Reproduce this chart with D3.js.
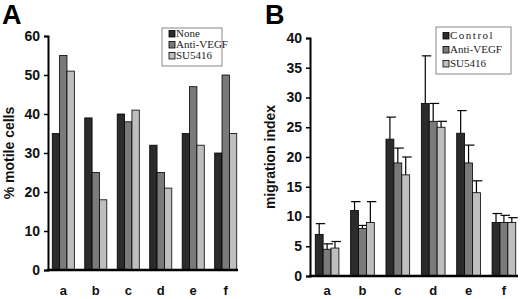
<!DOCTYPE html>
<html lang="en">
<head>
<meta charset="UTF-8">
<script src="https://d3js.org/d3.v7.min.js"></script>
<style>
  body { margin: 0; background: #fff; }
  svg text { font-family: "Liberation Sans", Arial, sans-serif; }
</style>
</head>
<body>
<div id="Area"></div>
<script>
// ---- data ----
const categories = ["a", "b", "c", "d", "e", "f"];

// panel A: % motile cells
const seriesA = ["None", "Anti-VEGF", "SU5416"];
const noneA = [35, 39, 40, 32, 35, 30];
const antiA = [55, 25, 38, 25, 47, 50];
const suA   = [51, 18, 41, 21, 32, 35];
const ticksA = [0, 10, 20, 30, 40, 50, 60];

// panel B: migration index, with upper error
const seriesB = ["Control", "Anti-VEGF", "SU5416"];
const controlB = [7, 11, 23, 29, 24, 9];
const antiB    = [4.5, 8, 19, 26, 19, 9];
const suB      = [4.7, 9, 17, 25, 14, 9];
const controlErr = [1.8, 1.5, 3.7, 8, 3.8, 1.5];
const antiErr    = [0.9, 0.5, 2.5, 3, 3, 1.2];
const suErr      = [1.1, 3.5, 3, 1, 2, 0.8];
const ticksB = [0, 5, 10, 15, 20, 25, 30, 35, 40];

const colors = ["#2b2b2b", "#7a7a7a", "#bebebe"];

const svg = d3.select("#Area").append("svg")
  .attr("width", 520).attr("height", 299);

function panel(opt) {
  const g = svg.append("g");
  const y = d3.scaleLinear().domain([0, opt.max]).range([opt.y0, opt.y1]);
  const x0 = d3.scaleBand().domain(categories)
    .range([opt.xLeft, opt.xRight]).paddingInner(opt.padIn).paddingOuter(opt.padOut);
  const x1 = d3.scaleBand().domain([0, 1, 2]).range([0, x0.bandwidth()]);

  // bars
  opt.values.forEach((vals, s) => {
    g.selectAll(null).data(vals).enter().append("rect")
      .attr("x", (d, i) => x0(categories[i]) + x1(s))
      .attr("y", d => y(d))
      .attr("width", x1.bandwidth())
      .attr("height", d => y(0) - y(d))
      .attr("fill", colors[s])
      .attr("stroke", "#000").attr("stroke-width", 0.8);
    if (opt.errs) {
      const e = opt.errs[s];
      const eg = g.selectAll(null).data(vals).enter().append("g")
        .attr("stroke", "#000").attr("stroke-width", 1.2);
      eg.append("line")
        .attr("x1", (d, i) => x0(categories[i]) + x1(s) + x1.bandwidth() / 2)
        .attr("x2", (d, i) => x0(categories[i]) + x1(s) + x1.bandwidth() / 2)
        .attr("y1", d => y(d))
        .attr("y2", (d, i) => y(d + e[i]));
      eg.append("line")
        .attr("x1", (d, i) => x0(categories[i]) + x1(s) + 0.5)
        .attr("x2", (d, i) => x0(categories[i]) + x1(s) + x1.bandwidth() + 2)
        .attr("y1", (d, i) => y(d + e[i]))
        .attr("y2", (d, i) => y(d + e[i]));
    }
  });

  // y axis
  const ya = g.append("g").attr("transform", `translate(${opt.xAxis},0)`)
    .call(d3.axisLeft(y).tickValues(opt.ticks).tickSize(4).tickPadding(4));
  ya.select(".domain").attr("stroke-width", 2);
  ya.selectAll(".tick line").attr("stroke-width", 1.5);
  ya.selectAll("text").attr("font-size", 14).attr("font-weight", "bold").attr("fill", "#111");

  // x axis line
  g.append("line").attr("x1", opt.xAxis - 1).attr("x2", opt.xEnd)
    .attr("y1", y(0)).attr("y2", y(0)).attr("stroke", "#000").attr("stroke-width", 2.5);

  // category labels
  g.selectAll(null).data(categories).enter().append("text")
    .attr("x", d => x0(d) + x0.bandwidth() / 2)
    .attr("y", opt.labelY)
    .attr("text-anchor", "middle")
    .attr("font-size", 13).attr("font-weight", "bold").attr("fill", "#111")
    .text(d => d);

  // y title
  g.append("text")
    .attr("transform", `translate(${opt.titleX},${(opt.y0 + opt.y1) / 2}) rotate(-90)`)
    .attr("text-anchor", "middle")
    .attr("font-size", 14).attr("font-weight", "bold").attr("fill", "#111")
    .text(opt.title);

  // panel letter
  g.append("text").attr("x", opt.letterX).attr("y", 24)
    .attr("font-size", 27).attr("font-weight", "bold").text(opt.letter);

  // legend
  const lg = g.append("g").attr("transform", `translate(${opt.legX},${opt.legY})`);
  lg.append("rect").attr("width", opt.legW).attr("height", opt.legH)
    .attr("fill", "#fff").attr("stroke", "#888").attr("stroke-width", 1);
  opt.names.forEach((n, i) => {
    const yy = opt.legRow0 + i * opt.legStep;
    lg.append("rect").attr("x", 7).attr("y", yy - 6.5).attr("width", 6).attr("height", 6.5)
      .attr("fill", colors[i]).attr("stroke", "#000").attr("stroke-width", 0.8);
    lg.append("text").attr("x", 14).attr("y", yy)
      .style("font-family", "'Liberation Serif', 'Times New Roman', serif")
      .attr("font-size", opt.legFont).attr("letter-spacing", i === 0 ? opt.ls0 : 0)
      .attr("fill", "#222").text(n);
  });
}

panel({
  values: [noneA, antiA, suA], errs: null, max: 60, ticks: ticksA,
  y0: 270, y1: 36, xAxis: 48, xEnd: 238, xLeft: 49, xRight: 240,
  padIn: 0.32, padOut: 0.1, labelY: 295, titleX: 14,
  title: "% motile cells", letter: "A", letterX: 2,
  names: seriesA, legX: 162, legY: 28, legW: 60, legH: 38,
  legRow0: 9, legStep: 11, legFont: 11, ls0: 0
});

panel({
  values: [controlB, antiB, suB], errs: [controlErr, antiErr, suErr], max: 40, ticks: ticksB,
  y0: 276, y1: 38, xAxis: 310, xEnd: 518, xLeft: 311, xRight: 520,
  padIn: 0.33, padOut: 0.12, labelY: 295, titleX: 275,
  title: "migration index", letter: "B", letterX: 265,
  names: seriesB, legX: 436, legY: 27, legW: 75, legH: 47,
  legRow0: 12, legStep: 14, legFont: 11, ls0: 1.5
});
</script>
</body>
</html>
